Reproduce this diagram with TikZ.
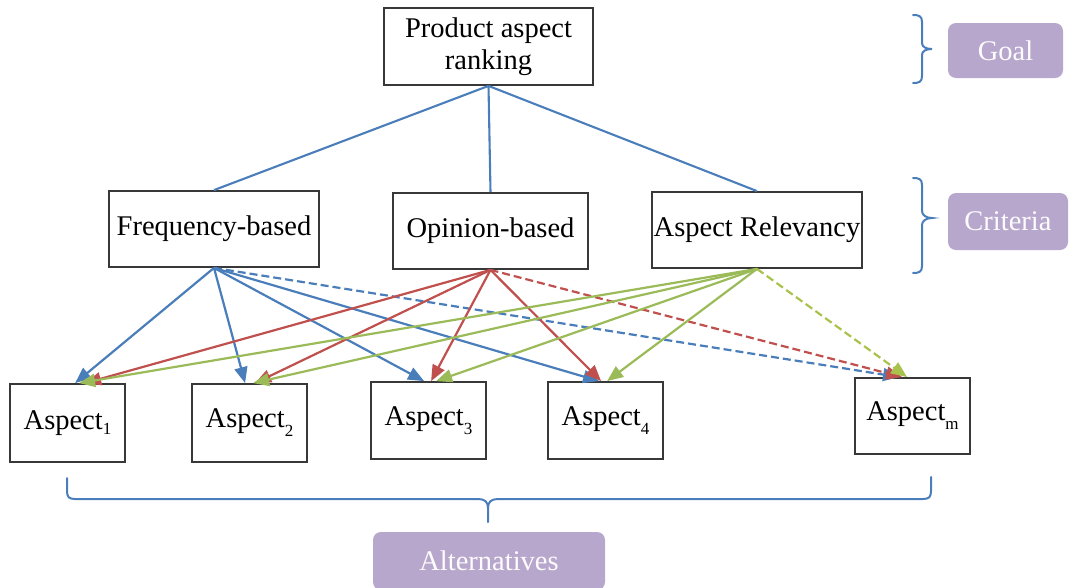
\documentclass[tikz,border=0pt]{standalone}
\usepackage{fontspec}
\setmainfont{Liberation Serif}
\usetikzlibrary{arrows.meta,calc}
\definecolor{lblue}{HTML}{4A7EBB}
\definecolor{lred}{HTML}{C0504D}
\definecolor{lgreen}{HTML}{9BBB59}
\definecolor{lgreendash}{HTML}{A8C24C}
\definecolor{lpurple}{HTML}{B8A7CC}
\definecolor{boxline}{HTML}{383838}
\newcommand{\asp}[1]{Aspect\raisebox{-0.32em}{\fontsize{17}{17}\selectfont #1}}
\begin{document}
\begin{tikzpicture}[x=1pt,y=-1pt,
  font=\fontsize{28.5}{32}\selectfont,
  box/.style={draw=boxline,line width=1.8pt,fill=white,inner sep=0pt,align=center},
  tag/.style={fill=lpurple,rounded corners=8pt,text=white!96!lpurple,inner sep=0pt},
  link/.style={lblue,line width=2.1pt},
  arr/.style={line width=2.2pt,-{Triangle[length=16pt,width=13pt]}},
  dsh/.style={arr,dash pattern=on 8pt off 4pt},
  brace/.style={lblue,line width=2pt,line cap=round}]
\useasboundingbox (0,0) rectangle (1071,587);
\clip (0,0) rectangle (1071,587);

% goal, criteria and alternatives
\node[box,minimum width=209pt,minimum height=77pt] (goal) at (488.5,46.5) {Product aspect\\ranking};
\node[box,minimum width=210pt,minimum height=76pt] (freq) at (214,229) {Frequency-based};
\node[box,minimum width=195pt,minimum height=76pt] (opin) at (490.5,231) {Opinion-based};
\node[box,minimum width=210pt,minimum height=76pt] (relv) at (757,230) {Aspect Relevancy};

\node[box,minimum width=115pt,minimum height=78pt] (a1) at (67.5,423) {Aspect\raisebox{-0.18em}{\fontsize{17}{17}\selectfont 1}};
\node[box,minimum width=115pt,minimum height=78pt] (a2) at (249.5,423) {\asp{2}};
\node[box,minimum width=115pt,minimum height=77pt] (a3) at (428.5,420.5) {\asp{3}};
\node[box,minimum width=115pt,minimum height=77pt] (a4) at (605.5,420.5) {\asp{4}};
\node[box,minimum width=115pt,minimum height=76pt] (am) at (912.5,416) {\asp{m}};

% hierarchy links
\draw[link] (goal.south) -- (freq.north);
\draw[link] (goal.south) -- (opin.north);
\draw[link] (goal.south) -- (relv.north);

% frequency-based criterion
\draw[arr,lblue] (freq.south) -- ([xshift=66pt]a1.north west);
\draw[arr,lblue] (freq.south) -- ([xshift=54pt]a2.north west);
\draw[arr,lblue] (freq.south) -- ([xshift=54pt]a3.north west);
\draw[arr,lblue] (freq.south) -- ([xshift=52pt]a4.north west);
\draw[dsh,lblue] (freq.south) -- ([xshift=45pt]am.north west);

% opinion-based criterion
\draw[arr,lred] (opin.south) -- ([xshift=76pt]a1.north west);
\draw[arr,lred] (opin.south) -- ([xshift=64pt]a2.north west);
\draw[arr,lred] (opin.south) -- ([xshift=61pt]a3.north west);
\draw[arr,lred] (opin.south) -- ([xshift=54pt]a4.north west);
\draw[dsh,lred] (opin.south) -- ([xshift=48pt]am.north west);

% aspect relevancy criterion
\draw[arr,lgreen] (relv.south) -- ([xshift=70pt]a1.north west);
\draw[arr,lgreen] (relv.south) -- ([xshift=62pt]a2.north west);
\draw[arr,lgreen] (relv.south) -- ([xshift=66pt]a3.north west);
\draw[arr,lgreen] (relv.south) -- ([xshift=60pt]a4.north west);
\draw[dsh,lgreendash] (relv.south) -- ([xshift=53pt]am.north west);

% level braces
\draw[brace] (913,15) .. controls (919,15) and (922,16) .. (922,22) -- (922,43)
  .. controls (922,47) and (926,49) .. (932,49)
  .. controls (926,49) and (922,51) .. (922,55) -- (922,76)
  .. controls (922,82) and (919,83) .. (913,83);
\draw[brace] (913,178) .. controls (919,178) and (922,179) .. (922,185) -- (922,211)
  .. controls (922,215) and (926,218) .. (932,218)
  .. controls (926,218) and (922,221) .. (922,225) -- (922,266)
  .. controls (922,272) and (919,273) .. (913,273);
\draw[brace] (67,478) -- (67,491) .. controls (67,497) and (69,499) .. (75,499) -- (478,499)
  .. controls (485,499) and (488,502) .. (488,508) -- (488,522);
\draw[brace] (931,477) -- (931,491) .. controls (931,497) and (929,499) .. (923,499) -- (498,499)
  .. controls (491,499) and (488,502) .. (488,508);

% level labels
\node[tag,minimum width=115pt,minimum height=55pt] (lgoal) at (1005.5,50.5) {Goal};
\node[tag,minimum width=120pt,minimum height=57pt] (lcrit) at (1008,221.5) {Criteria};
\node[tag,minimum width=232pt,minimum height=58pt] (lalt) at (489,561) {Alternatives};
\end{tikzpicture}
\end{document}
